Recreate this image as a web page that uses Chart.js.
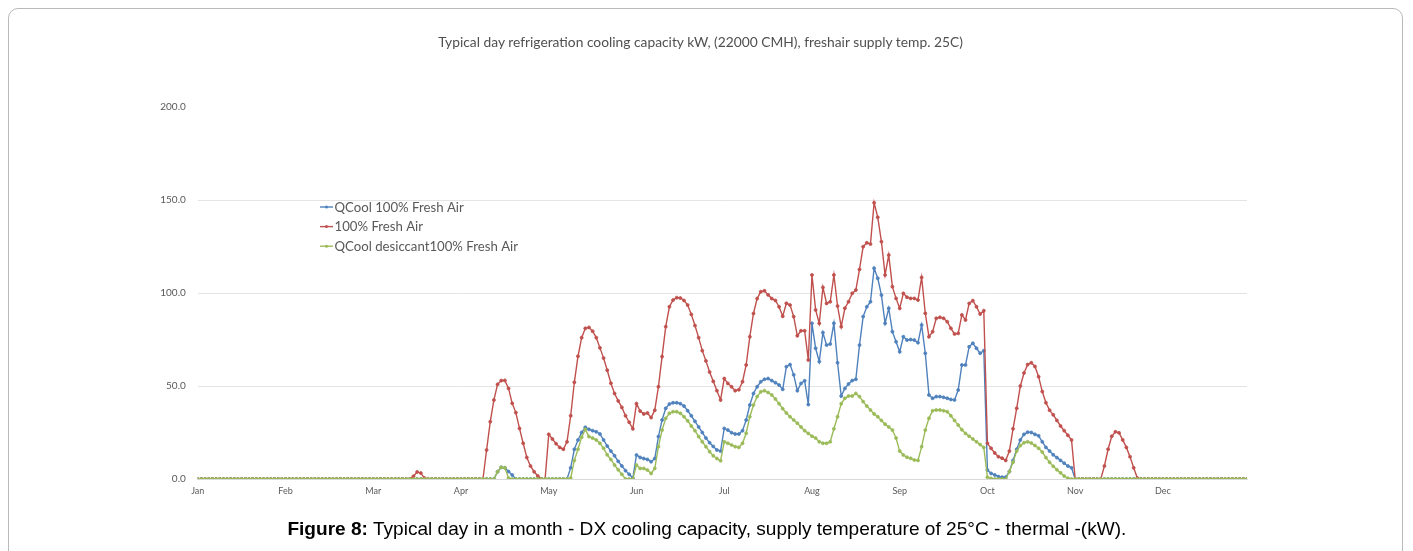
<!DOCTYPE html>
<html>
<head>
<meta charset="utf-8">
<script src="https://cdn.jsdelivr.net/npm/chart.js@4.4.1/dist/chart.umd.min.js"></script>
<style>
  html, body { margin:0; padding:0; background:#fff; width:1413px; height:551px; overflow:hidden; }
  #frame { position:absolute; left:8px; top:8px; width:1395px; height:600px; border:1px solid #b9b9b9; border-radius:10px; box-sizing:border-box; }
  #chart { position:absolute; left:0; top:0; }
  #title { position:absolute; left:0; width:1401px; top:33px; text-align:center; font-family:Lato, "Open Sans", sans-serif; font-size:13.8px; color:#505050; white-space:nowrap; }
  #caption { position:absolute; left:0; top:518px; width:1413px; text-align:center; white-space:nowrap; }
  #caption span.inner { display:inline-block; font-family:"Liberation Sans Narrow","Liberation Sans",Arial,sans-serif; font-size:19px; color:#000; transform-origin:50% 50%; }
</style>
</head>
<body>
<div id="frame"></div>
<canvas id="chart" width="1413" height="551"></canvas>
<div id="title">Typical day refrigeration cooling capacity kW, (22000 CMH), freshair supply temp. 25C)</div>
<div id="caption"><span class="inner" id="capInner"><b>Figure 8:</b> Typical day in a month - DX cooling capacity, supply temperature of 25°C - thermal -(kW).</span></div>
<script>
// ---- data (24 hourly points per month) ----
const months = ['Jan','Feb','Mar','Apr','May','Jun','Jul','Aug','Sep','Oct','Nov','Dec'];
const seriesNames = ['QCool 100% Fresh Air', '100% Fresh Air', 'QCool desiccant100% Fresh Air'];
const yTicks = [0, 50, 100, 150, 200];

const zeros = [0,0,0,0,0,0,0,0,0,0,0,0,0,0,0,0,0,0,0,0,0,0,0,0];

const qcoolFresh = [
  ...zeros, // Jan
  ...zeros, // Feb
  ...zeros, // Mar
  0,0,0,0,0,0,0,0,0,0,3.9,6.3,6,4,2.2,0,0,0,0,0,0,0,0,0, // Apr
  0,0,0,0,0,0,6,16,21,25,27.8,26.7,26,25.4,24.2,21,17.7,15,12.5,9.5,7,4.5,2.5,0.5, // May
  12.9,11.6,11,10.5,9.3,11,22.8,31.7,38,40.3,41,41,40.5,39.2,36.7,34,31,28,25,22,19.5,17.5,15.6,15, // Jun
  27.2,26.3,24.9,24.2,24.2,26,31.7,39.8,46,49.6,52.3,53.6,54,52.9,51.8,50.5,48.2,60.4,61.5,56,47.5,51.4,52.8,40, // Jul
  83.7,70.3,63.1,78.7,72,72.6,83.7,62.5,44.6,48.7,51.1,52.9,53.6,72,87.3,92.6,95.3,113.3,107.9,98.9,83.7,91.8,79.2,73.8, // Aug
  68.4,76.5,74.7,75,74.7,73.3,82.8,67.6,45.2,43.4,44.3,44.3,43.9,43.4,42.8,42.5,47.8,61.3,61.3,71.1,73,70.3,67.6,69, // Sep
  4.8,3,2.2,1.3,1,1,4,10,16,21,24,25.2,25,24,23.2,20,17,15,13,11.5,10,8.5,7,6, // Oct
  ...zeros, // Nov
  ...zeros  // Dec
];

const fresh = [
  ...zeros, // Jan
  ...zeros, // Feb
  0,0,0,0,0,0,0,0,0,0,0,1.5,3.8,3.2,0.5,0,0,0,0,0,0,0,0,0, // Mar
  0,0,0,0,0,0,0,15.6,30.8,42.5,50.9,52.9,53,48.7,40.7,35.7,27.2,19.2,11.6,7,3.9,1.6,0,0, // Apr
  24,21.5,19,17,16,20,34,52,66,76,81,81.5,79.5,76,70.5,65,58.5,51.5,46,42,38.5,34,30.5,27, // May
  40.5,36.5,35,35.5,33,37,49.6,65.8,81.9,92.6,96.2,97.5,97.3,96,93.5,88.5,82.5,76,69,63.5,57.5,52.5,47.5,42.5, // Jun
  54,51.4,49.6,47.5,48,52.3,61.3,76.5,89,97,100.7,101.2,99,97,96,92.6,87.5,94.5,93.5,87.3,77,79.7,79.7,64, // Jul
  109.7,90.9,83.7,103,94.4,95.3,109.7,93,81.9,91.8,95.3,99.8,101.6,112.7,124.9,127,126.3,148.5,140.7,127.6,109.7,120.4,103.4,97.1, // Aug
  91.8,99.8,97.7,97.1,97.1,96.2,108.4,89.1,76.5,79.2,86.4,86.9,86.4,84.6,81,78,78.3,88.2,85.5,94.4,95.9,92.6,88.7,90.5, // Sep
  19.2,16.5,14,12,11.2,10,15,27,38,50,57,61.5,62.5,60.5,55,47,41,37,34.5,31.5,28.5,26,23.5,21, // Oct
  0,0,0,0,0,0,0,0,7,16,23,25.4,24.8,21,17,12,6,0.5,0,0,0,0,0,0, // Nov
  ...zeros  // Dec
];

const qcoolDesiccant = [
  ...zeros, // Jan
  ...zeros, // Feb
  ...zeros, // Mar
  0,0,0,0,0,0,0,0,0,0,3.9,6.3,6,0.5,0,0,0,0,0,0,0,0,0,0, // Apr
  0,0,0,0,0,0,0.5,10,16,22.5,26.7,22.8,22,21,19.2,16.5,13,10.5,7.5,5,2.5,0,0,0, // May
  7.5,5.7,5.7,4.8,3,5.7,17.4,26.3,32.6,35.3,36.2,36.2,35.3,33.5,31.3,28.5,26,22.8,20,17.4,14.7,12.5,11,9.8, // Jun
  20,19.2,18.3,17.4,17,19.2,24.6,33.5,39.8,44.3,46.9,47.5,46.5,45.2,43,40.5,37.8,35.5,33.5,31.7,30,28,26,24.5, // Jul
  23,22,20,19.2,19.2,20,27,33.5,40.5,43.4,44.6,44.6,46,44.3,41.6,39.2,37.1,35,33.5,31.5,29.5,28,26.3,22, // Aug
  15,12.9,11.7,11.1,10.2,10,17.4,26.3,32.6,36.7,37.1,37.1,36.7,36.2,34,31.5,29,26.5,24.5,23,21.5,20,18.5,17, // Sep
  1,0.3,0,0,0,0,4,9,15,18,19.5,20,19.3,18,16.5,14.5,11.5,9,6.8,5,3.3,1.6,0.4,0, // Oct
  ...zeros, // Nov
  ...zeros  // Dec
];

// ---- chart ----
const POINTS = qcoolFresh.length;
const pointIndex = Array.from({length: POINTS}, (_, i) => i);
const monthStart = months.map((m, i) => i * 24);

const colors = ['#4F81BD', '#C0504D', '#9BBB59'];

function ds(label, data, color, order) {
  return {
    label, data, order,
    borderColor: color, backgroundColor: color,
    borderWidth: 1.4,
    pointRadius: 1.5, pointHoverRadius: 1.5,
    pointBorderWidth: 0.8, pointBorderColor: color, pointBackgroundColor: color,
    tension: 0, fill: false
  };
}

const legendPlugin = {
  id: 'insideLegend',
  afterDraw(chart) {
    const ctx = chart.ctx;
    ctx.save();
    chart.data.datasets.forEach((d, i) => {
      const y = 207 + i * 19.6;
      ctx.strokeStyle = d.borderColor;
      ctx.lineWidth = 1.4;
      ctx.beginPath(); ctx.moveTo(320, y); ctx.lineTo(333, y); ctx.stroke();
      ctx.fillStyle = d.borderColor;
      ctx.beginPath(); ctx.arc(326.5, y, 1.5, 0, Math.PI * 2); ctx.fill();
      ctx.fillStyle = '#595959';
      ctx.font = '13.2px Lato, "Open Sans", sans-serif';
      ctx.textBaseline = 'middle';
      ctx.textAlign = 'left';
      ctx.fillText(d.label, 334.5, y + 0.5);
    });
    ctx.restore();
  }
};

new Chart(document.getElementById('chart'), {
  type: 'line',
  data: {
    labels: pointIndex,
    datasets: [
      ds(seriesNames[0], qcoolFresh, colors[0], 2),
      ds(seriesNames[1], fresh, colors[1], 1),
      ds(seriesNames[2], qcoolDesiccant, colors[2], 0)
    ]
  },
  options: {
    responsive: false,
    animation: false,
    devicePixelRatio: 1,
    layout: { padding: { left: 0, right: 166, top: 107, bottom: 0 } },
    plugins: { legend: { display: false }, tooltip: { enabled: false }, title: { display: false } },
    scales: {
      x: {
        type: 'linear',
        min: 0, max: POINTS - 1,
        afterBuildTicks: (s) => { s.ticks = monthStart.map(v => ({ value: v })); },
        afterFit: (s) => { s.height = 72; },
        grid: { display: false, drawTicks: false },
        border: { display: true, color: '#d9d9d9', width: 1 },
        ticks: {
          autoSkip: false, maxRotation: 0, padding: 7,
          color: '#595959',
          font: { family: 'Lato, "Open Sans", sans-serif', size: 9 },
          callback: (v) => months[Math.round(v / 24)]
        }
      },
      y: {
        min: 0, max: 200,
        afterBuildTicks: (s) => { s.ticks = yTicks.map(v => ({ value: v })); },
        afterFit: (s) => { s.width = 197.8; },
        grid: {
          drawTicks: false,
          color: (c) => (c.tick && c.tick.value === 200) ? 'rgba(0,0,0,0)' : '#e4e4e4',
          lineWidth: 1
        },
        border: { display: false },
        ticks: {
          padding: 12, color: '#595959',
          font: { family: 'Lato, "Open Sans", sans-serif', size: 10 },
          callback: (v) => Number(v).toFixed(1)
        }
      }
    }
  },
  plugins: [legendPlugin]
});

// fit caption width to the figure text width
(function() {
  const el = document.getElementById('capInner');
  const w = el.getBoundingClientRect().width;
  const target = 839;
  if (w > 0) el.style.transform = 'scaleX(' + (target / w).toFixed(4) + ')';
})();
</script>
</body>
</html>
